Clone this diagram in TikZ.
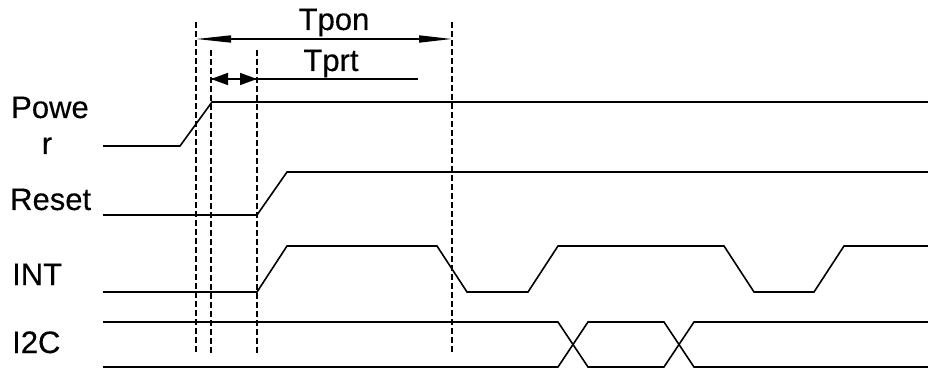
\documentclass[tikz,border=0pt]{standalone}
\usepackage{fontspec}
\setmainfont{Liberation Sans}[FakeBold=0.3]
\usetikzlibrary{arrows.meta}
\begin{document}
\begin{tikzpicture}[x=1pt,y=-1pt,
  sig/.style={line width=1.6pt,line join=miter},
  vdash/.style={line width=1.5pt,dash pattern=on 6pt off 3pt},
  lbl/.style={font=\fontsize{31}{31}\selectfont,inner sep=0pt,anchor=base west},
  ttl/.style={font=\fontsize{31}{31}\selectfont,inner sep=0pt,anchor=base},
  bigtip/.style={line width=1.6pt,{Triangle[length=35pt,width=7pt]}-{Triangle[length=33pt,width=7pt]}},
  smalltip/.style={line width=1.6pt,{Triangle[length=17pt,width=12pt]}-{Triangle[length=17pt,width=12pt]}}]
\useasboundingbox (0,0) rectangle (928,371);
\fill[white] (0,0) rectangle (928,371);
% labels
\node[lbl] (lpow) at (11,118) {Powe};
\node[lbl,anchor=base] (lr) at (47,154) {r};
\node[lbl] (lres) at (10,210) {Reset};
\node[lbl] (lint) at (12,285) {INT};
\node[lbl] (li2c) at (12,353) {I2C};
\node[ttl] (tpon) at (334,30) {Tpon};
\node[ttl] (tprt) at (331,71) {Tprt};
% dashed verticals
\coordinate (d1t) at (196,22); \coordinate (d1b) at (196,353);
\coordinate (d2t) at (211,50); \coordinate (d2b) at (211,353);
\coordinate (d3t) at (257,50); \coordinate (d3b) at (257,355);
\coordinate (d4t) at (452,22); \coordinate (d4b) at (452,352);
\draw[vdash] (d1t) -- (d1b);
\draw[vdash] (d2t) -- (d2b);
\draw[vdash] (d3t) -- (d3b);
\draw[vdash] (d4t) -- (d4b);
% Tpon arrow
\coordinate (pa) at (196,39); \coordinate (pb) at (452,39);
\draw[bigtip] (pa) -- (pb);
% Tprt arrow
\coordinate (ra) at (211,79); \coordinate (rb) at (257,79); \coordinate (rc) at (418,79);
\draw[sig] (ra) -- (rc);
\draw[smalltip] (ra) -- (rb);
% Power
\draw[sig] (103,146) -- (180,146) -- (212,102) -- (928,102);
% Reset
\draw[sig] (103,215) -- (257,215) -- (287,172) -- (928,172);
% INT
\draw[sig] (103,292) -- (257,292) -- (287,246) -- (437,246) -- (467,292) -- (528,292)
  -- (558,246) -- (724,246) -- (754,292) -- (814,292) -- (844,246) -- (928,246);
% I2C
\draw[sig] (103,322) -- (558,322) -- (588,367) -- (664,367) -- (694,322) -- (928,322);
\draw[sig] (103,367) -- (558,367) -- (588,322) -- (664,322) -- (694,367) -- (928,367);
\end{tikzpicture}
\end{document}
